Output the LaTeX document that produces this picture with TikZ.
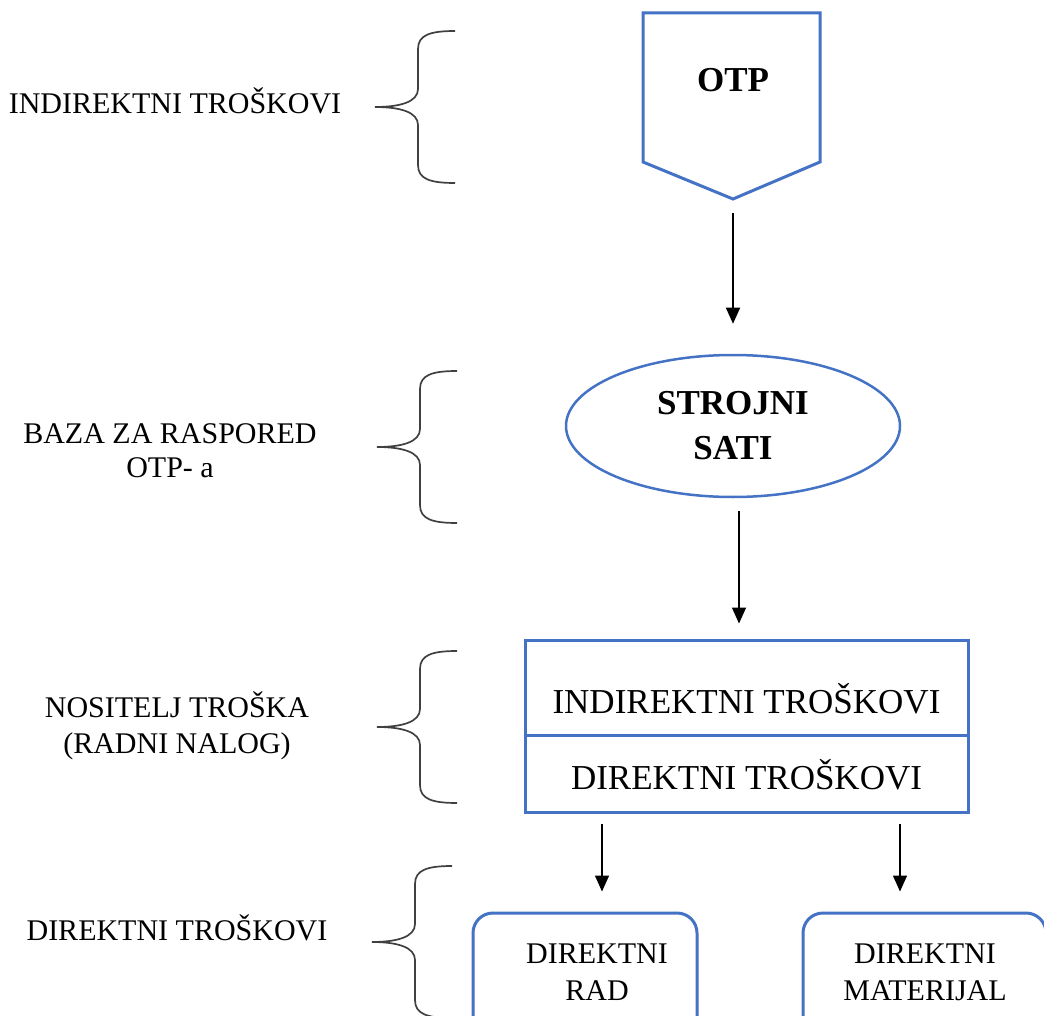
\documentclass[tikz,border=0pt]{standalone}
\usepackage{fontspec}
\setmainfont{Liberation Serif}
\usetikzlibrary{arrows.meta,shapes.geometric}
\definecolor{wordblue}{HTML}{4472C4}
\definecolor{bracegray}{HTML}{404040}
\begin{document}
\begin{tikzpicture}[x=1pt,y=-1pt,
  arr/.style={line width=1.5pt,-{Triangle[width=14pt,length=16pt]}},
  bluebox/.style={draw=wordblue,line width=3pt,rectangle,inner sep=0pt},
  lbl/.style={font=\fontsize{30}{36}\selectfont,anchor=base,inner sep=0pt},
  boxtxt/.style={font=\fontsize{35}{42}\selectfont,anchor=base,inner sep=0pt},
  boldtxt/.style={font=\bfseries\fontsize{35}{45}\selectfont,align=center,inner sep=0pt},
  smalltxt/.style={font=\fontsize{30}{36}\selectfont,anchor=base,inner sep=0pt},
  brc/.style={draw=bracegray,line width=1.7pt},
  lbrace/.pic={\draw[brc] (80,-76) .. controls (55,-76) and (43,-72) .. (43,-58) -- (43,-18) .. controls (43,-5) and (25,0) .. (0,0) .. controls (25,0) and (43,5) .. (43,18) -- (43,58) .. controls (43,72) and (55,76) .. (80,76);}
]
\useasboundingbox (0,0) rectangle (1044,1016);
\clip (0,0) rectangle (1044,1016);

% left labels
\node[lbl] (l1) at (175,114) {INDIREKTNI TROŠKOVI};
\node[lbl] (l2a) at (170,443) {BAZA ZA RASPORED};
\node[lbl] (l2b) at (170,477) {OTP- a};
\node[lbl] (l3a) at (177,717) {NOSITELJ TROŠKA};
\node[lbl] (l3b) at (177,753) {(RADNI NALOG)};
\node[lbl] (l4) at (177,940) {DIREKTNI TROŠKOVI};

% braces
\pic at (375,107) {lbrace};
\pic at (377,447) {lbrace};
\pic at (377,727) {lbrace};
\pic at (372,942) {lbrace};

% OTP pentagon
\draw[wordblue,line width=3pt,line join=miter] (643,13) -- (820,13) -- (820,162) -- (733,199) -- (643,162) -- cycle;
\node[boldtxt] (otp) at (733,80) {OTP};
\coordinate (otpTip) at (733,199);

% ellipse
\node[ellipse,draw=wordblue,line width=2.5pt,minimum width=334pt,minimum height=142pt,inner sep=0pt] (ell) at (733,426) {};
\node[boldtxt] (ellTxt) at (ell.center) {STROJNI\\SATI};

% split box
\node[bluebox,minimum width=443pt,minimum height=95pt] (up) at (746.5,687.5) {};
\node[bluebox,minimum width=443pt,minimum height=77pt] (low) at (746.5,773.5) {};
\node[boxtxt] (upTxt) at (746.5,713.5) {INDIREKTNI TROŠKOVI};
\node[boxtxt] (lowTxt) at (746.5,789.5) {DIREKTNI TROŠKOVI};

% bottom boxes
\node[draw=wordblue,line width=3pt,rounded corners=20pt,minimum width=224pt,minimum height=130pt,inner sep=0pt] (rad) at (585,978) {};
\node[draw=wordblue,line width=3pt,rounded corners=20pt,minimum width=243pt,minimum height=130pt,inner sep=0pt] (mat) at (924.5,978) {};
\node[smalltxt] (radA) at (597,963) {DIREKTNI};
\node[smalltxt] (radB) at (597,1000) {RAD};
\node[smalltxt] (matA) at (925,963) {DIREKTNI};
\node[smalltxt] (matB) at (925,1000) {MATERIJAL};

% arrows
\draw[arr,shorten <=14pt,shorten >=30pt] (otpTip) -- (ell.north);
\draw[arr] ([xshift=6pt,yshift=-13pt]ell.south) -- ([xshift=-7.5pt,yshift=15pt]up.north);
\draw[arr,shorten <=10pt,shorten >=20pt] ([xshift=-144.5pt]low.south) -- ([xshift=17pt]rad.north);
\draw[arr,shorten <=10pt,shorten >=20pt] ([xshift=153.5pt]low.south) -- ([xshift=-24.5pt]mat.north);
\end{tikzpicture}
\end{document}
